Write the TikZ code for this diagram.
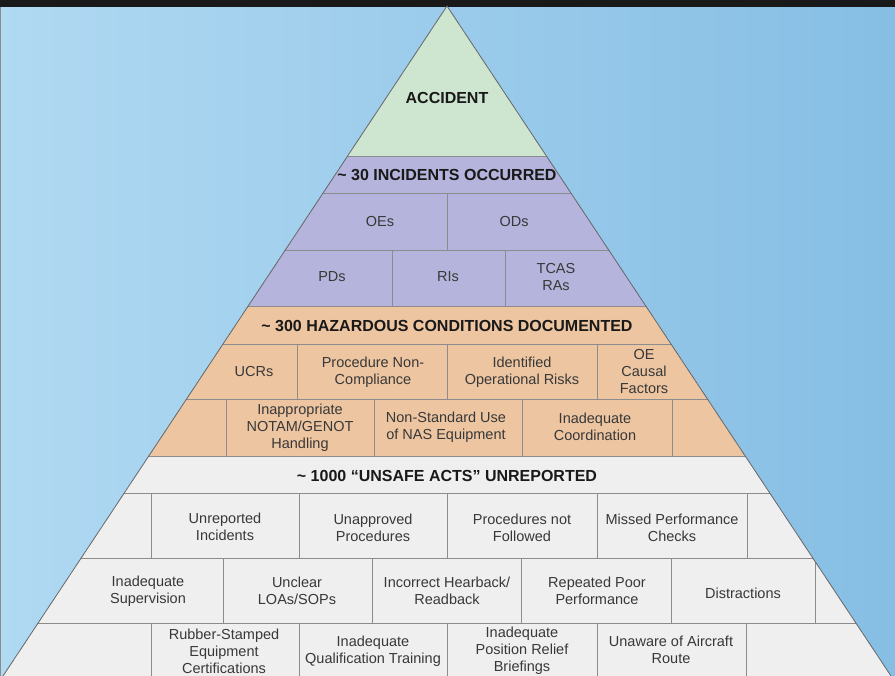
\documentclass[tikz,border=0pt]{standalone}
\usepackage{fontspec}
\setmainfont{Liberation Sans}

\definecolor{skyleft}{HTML}{B0D9F2}
\definecolor{skymid}{HTML}{9ACCEC}
\definecolor{skyright}{HTML}{86BEE4}
\definecolor{accgreen}{HTML}{CEE5CF}
\definecolor{inclav}{HTML}{B4B4DC}
\definecolor{hazpeach}{HTML}{EDC5A1}
\definecolor{actgray}{HTML}{EFEFEF}
\definecolor{linegray}{HTML}{8C8C8C}
\definecolor{cellgray}{HTML}{383838}

\tikzset{
    divider/.style={draw=linegray, line width=0.9pt},
    cell/.style={align=center, text=cellgray, inner sep=0pt, font=\fontsize{14.5}{17}\selectfont},
    title/.style={align=center, text=black!90, inner sep=0pt, font=\fontsize{16}{19}\selectfont\bfseries}
}

\begin{document}
\begin{tikzpicture}[x=1pt,y=-1pt]%Pirámide de incidentes
        \useasboundingbox (0,0) rectangle (895,676);

        \coordinate (A) at (447,6);
        \coordinate (L) at (3,676);
        \coordinate (R) at (891,676);

        \shade[left color=skyleft, middle color=skymid, right color=skyright] (0,0) rectangle (895,676);
        \fill[black!90] (0,0) rectangle (895,7);
        \draw[black!45, line width=1pt] (0.8,7) -- (0.8,676);

        \begin{scope}
        \clip (A) -- (L) -- (R) -- cycle;
        \fill[accgreen] (0,6) rectangle (895,156);
        \fill[inclav] (0,156) rectangle (895,306);
        \fill[hazpeach] (0,306) rectangle (895,456);
        \fill[actgray] (0,456) rectangle (895,676);

        \draw[divider] (0,156) -- (895,156) (0,193) -- (895,193) (0,250) -- (895,250);
        \draw[divider] (0,306) -- (895,306) (0,344) -- (895,344) (0,399) -- (895,399);
        \draw[divider] (0,456) -- (895,456) (0,493) -- (895,493) (0,558) -- (895,558);
        \draw[divider] (0,623) -- (895,623);

        \draw[divider] (447,193) -- (447,250);
        \draw[divider] (392,250) -- (392,306) (505,250) -- (505,306);
        \draw[divider] (297,344) -- (297,399) (447,344) -- (447,399) (597,344) -- (597,399);
        \draw[divider] (226,399) -- (226,456) (374,399) -- (374,456) (522,399) -- (522,456) (672,399) -- (672,456);
        \draw[divider] (151,493) -- (151,558) (299,493) -- (299,558) (447,493) -- (447,558) (597,493) -- (597,558) (747,493) -- (747,558);
        \draw[divider] (223,558) -- (223,623) (372,558) -- (372,623) (521,558) -- (521,623) (671,558) -- (671,623) (815,558) -- (815,623);
        \draw[divider] (151,623) -- (151,676) (299,623) -- (299,676) (447,623) -- (447,676) (597,623) -- (597,676) (746,623) -- (746,676);
        \end{scope}

        \draw[black!60, line width=0.8pt] (L) -- (A) -- (R);

        \node[title] (acc) at (447,98) {ACCIDENT};

        \node[title] (inc) at (447,175) {\textasciitilde{} 30 INCIDENTS OCCURRED};
        \node[cell] (oes) at (380,222) {OEs};
        \node[cell] (ods) at (514,222) {ODs};
        \node[cell] (pds) at (332,277) {PDs};
        \node[cell] (ris) at (448,277) {RIs};
        \node[cell] (tcas) at (556,277) {TCAS\\RAs};

        \node[title] (haz) at (447,326) {\textasciitilde{} 300 HAZARDOUS CONDITIONS DOCUMENTED};
        \node[cell] (ucr) at (254,372) {UCRs};
        \node[cell] (pnc) at (373,372) {Procedure Non-\\Compliance};
        \node[cell] (ior) at (522,372) {Identified\\Operational Risks};
        \node[cell] (oecf) at (644,372) {OE\\Causal\\Factors};
        \node[cell] (nth) at (300,428) {Inappropriate\\NOTAM/GENOT\\Handling};
        \node[cell] (nsu) at (446,427) {Non-Standard Use\\of NAS Equipment};
        \node[cell] (ico) at (595,427) {Inadequate\\Coordination};

        \node[title] (unsafe) at (447,476) {\textasciitilde{} 1000 “UNSAFE ACTS” UNREPORTED};
        \node[cell] (uri) at (225,527) {Unreported\\Incidents};
        \node[cell] (uap) at (373,528) {Unapproved\\Procedures};
        \node[cell] (pnf) at (522,528) {Procedures not\\Followed};
        \node[cell] (mpc) at (672,528) {Missed Performance\\Checks};
        \node[cell] (isu) at (148,591) {Inadequate\\Supervision};
        \node[cell] (ulo) at (297,591) {Unclear\\LOAs/SOPs};
        \node[cell] (ihr) at (447,591) {Incorrect Hearback/\\Readback};
        \node[cell] (rpp) at (597,591) {Repeated Poor\\Performance};
        \node[cell] (dis) at (743,593) {Distractions};
        \node[cell] (rse) at (224,651) {Rubber-Stamped\\Equipment\\Certifications};
        \node[cell] (iqt) at (373,651) {Inadequate\\Qualification Training};
        \node[cell] (ipr) at (522,651) {Inadequate\\Position Relief\\Briefings};
        \node[cell] (uar) at (671,650) {Unaware of Aircraft\\Route};
    \end{tikzpicture}
\end{document}
